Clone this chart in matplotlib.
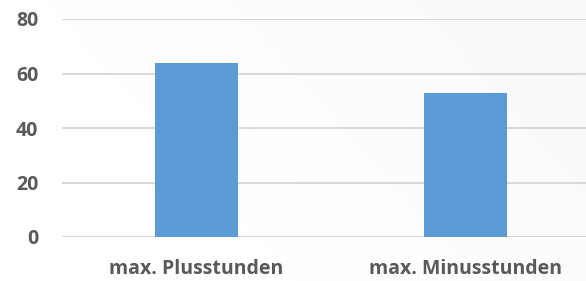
import numpy as np
import matplotlib.pyplot as plt

categories = ["max. Plusstunden", "max. Minusstunden"]
values = [64, 53]
yticks = [0, 20, 40, 60, 80]

plt.rcParams["font.family"] = ["Open Sans", "DejaVu Sans"]
text_color = "#595959"

fig = plt.figure(figsize=(5.86, 2.81), dpi=100)
fig.patch.set_facecolor("white")

# faint grey gradient in the background, darker to the upper right
bg = fig.add_axes([0, 0, 1, 1], zorder=-10)
gx, gy = np.meshgrid(np.linspace(0, 1, 200), np.linspace(0, 1, 100))
grad = np.clip(gx * 0.7 + (1 - gy) * 0.3 - 0.3, 0, 1)
bg.imshow(grad, cmap="Greys", vmin=0, vmax=14, aspect="auto", extent=[0, 1, 0, 1])
bg.axis("off")

ax = fig.add_axes([62 / 586, 44 / 281, 538 / 586, 218 / 281])
ax.patch.set_alpha(0)
x = np.arange(len(categories))
ax.bar(x, values, width=0.31, color="#5b9bd5", zorder=3)

ax.set_xlim(-0.5, 1.5)
ax.set_ylim(0, 80)
ax.set_yticks(yticks)
ax.set_xticks(x)
ax.set_xticklabels(categories)
ax.yaxis.grid(True, color="#d9d9d9", linewidth=1.5, zorder=0)
ax.set_axisbelow(True)
for s in ax.spines.values():
    s.set_visible(False)
ax.tick_params(length=0, colors=text_color, labelsize=14)
ax.tick_params(axis="y", pad=17)
ax.tick_params(axis="x", pad=16)
for lbl in ax.get_xticklabels() + ax.get_yticklabels():
    lbl.set_fontweight("bold")

plt.savefig("out.png", dpi=100)
